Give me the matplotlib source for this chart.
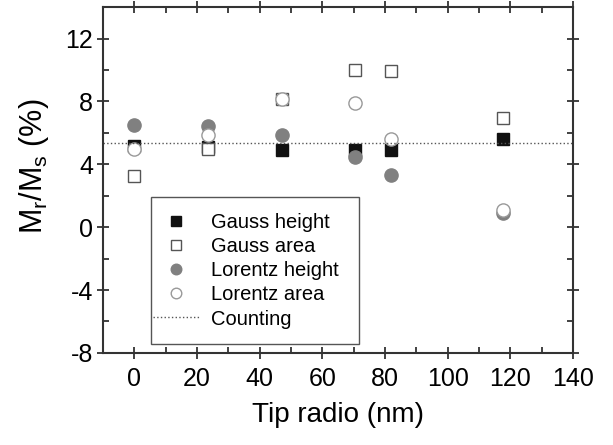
import numpy as np
import matplotlib.pyplot as plt
from matplotlib.ticker import MultipleLocator
from matplotlib.patches import Rectangle

plt.rcParams['font.family'] = ['Liberation Sans', 'DejaVu Sans']
plt.rcParams['mathtext.fontset'] = 'custom'
plt.rcParams['mathtext.rm'] = 'Liberation Sans'
plt.rcParams['mathtext.it'] = 'Liberation Sans'
plt.rcParams['axes.unicode_minus'] = False

# data
tip = [0, 23.5, 47, 70.5, 82, 117.5]
gauss_height = [5.15, 5.1, 4.9, 4.9, 4.9, 5.6]
gauss_area = [3.25, 4.95, 8.15, 10.0, 9.95, 6.95]
lorentz_height = [6.5, 6.45, 5.85, 4.45, 3.3, 0.9]
lorentz_area = [5.0, 5.85, 8.15, 7.9, 5.6, 1.1]
counting = 5.35

fig = plt.figure(figsize=(6.13, 4.45), dpi=100)
ax = fig.add_axes([0.168, 0.207, 0.767, 0.777])

ax.plot(tip, gauss_height, 's', color='#111111', ms=8.5, label='Gauss height')
ax.plot(tip, gauss_area, 's', mfc='white', mec='#555555', mew=1.0, ms=8.5, label='Gauss area')
ax.plot(tip, lorentz_height, 'o', color='#808080', ms=9.5, label='Lorentz height')
ax.plot(tip, lorentz_area, 'o', mfc='white', mec='#999999', mew=1.0, ms=9.5, label='Lorentz area')
ax.axhline(counting, color='#555555', ls=':', lw=1.0, label='Counting')

ax.set_xlim(-10, 140)
ax.set_ylim(-8, 14)
ax.xaxis.set_major_locator(MultipleLocator(20))
ax.xaxis.set_minor_locator(MultipleLocator(10))
ax.yaxis.set_minor_locator(MultipleLocator(2))
ax.set_yticks([-8, -4, 0, 4, 8, 12])

for s in ax.spines.values():
    s.set_linewidth(1.5)
    s.set_color('#333333')
ax.tick_params(which='both', top=True, right=True, color='#333333', width=1.3)
ax.tick_params(which='major', direction='inout', length=8, labelsize=18, pad=3)
ax.tick_params(which='minor', direction='in', length=4)
ax.tick_params(axis='x', which='major', pad=6)

ax.set_xlabel('Tip radio (nm)', fontsize=20, labelpad=8)
ax.set_ylabel('M$_r$/M$_s$ (%)', fontsize=22)
ax.yaxis.set_label_coords(-0.11, 0.54)

# legend without its own frame, box drawn separately
leg = ax.legend(loc='center left', bbox_to_anchor=(0.106, 0.237), fontsize=14.5,
                frameon=False, markerscale=0.8, borderpad=0, borderaxespad=0,
                handlelength=2.35, handletextpad=0.55, labelspacing=0.25)
ax.add_patch(Rectangle((0.102, 0.026), 0.443, 0.425, transform=ax.transAxes,
                       fill=False, edgecolor='#555555', lw=1.0, zorder=5))

fig.savefig('out.png', dpi=100)
